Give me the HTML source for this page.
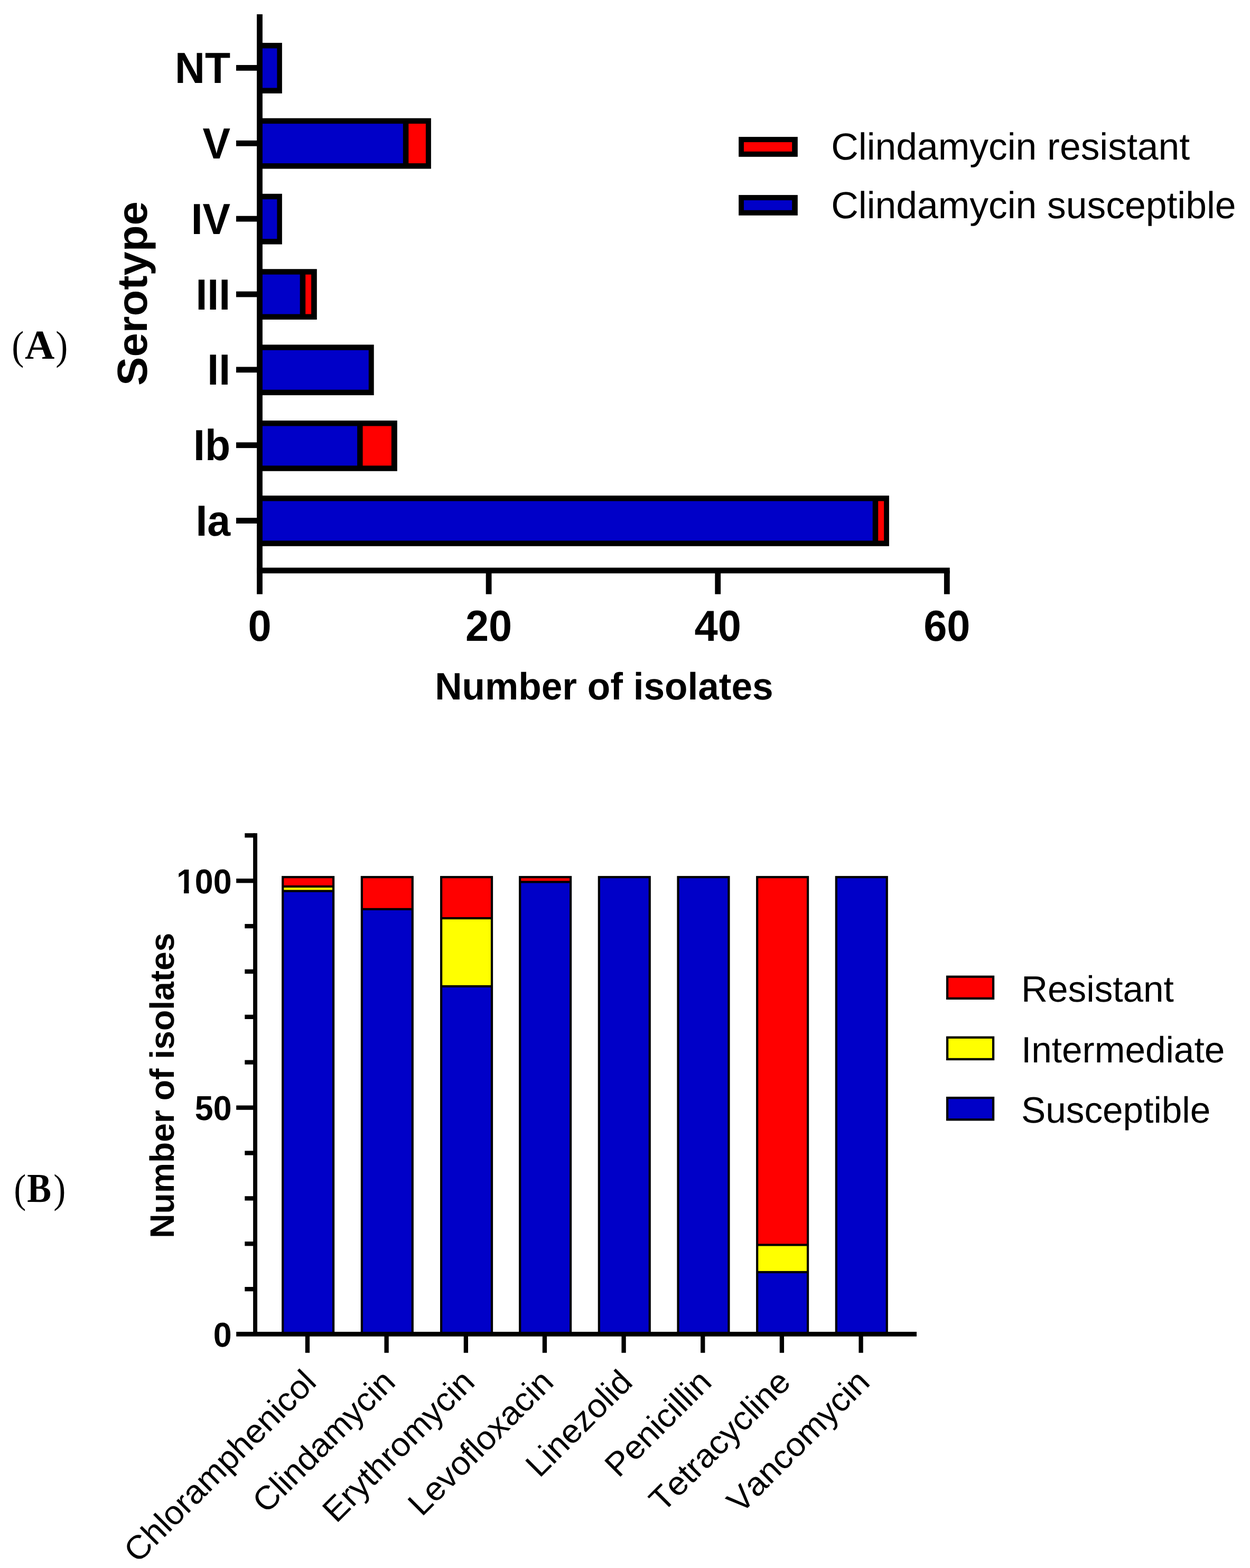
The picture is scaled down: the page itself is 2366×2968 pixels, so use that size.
<!DOCTYPE html>
<html lang="en">
<head>
<meta charset="utf-8">
<title>Serotype distribution and antimicrobial susceptibility</title>
<style>
html,body{margin:0;padding:0;background:#fff;overflow:hidden;}
body{width:2366px;height:2968px;overflow:hidden;}
svg{display:block;}
text{fill:#000;font-kerning:none;font-variant-ligatures:none;text-rendering:geometricPrecision;}
.b{font-family:'Liberation Sans', Arial, Helvetica, sans-serif;font-weight:700;}
.r{font-family:'Liberation Sans', Arial, Helvetica, sans-serif;font-weight:400;}
.s{font-family:'Liberation Serif', 'Times New Roman', serif;font-weight:400;}
.sb{font-family:'Liberation Serif', 'Times New Roman', serif;font-weight:700;}
</style>
</head>
<body>
<svg width="2366" height="2968" viewBox="0 0 2366 2968">
<rect x="0" y="0" width="2366" height="2968" fill="#fff"/>
<g id="chartA">
<rect x="491.5" y="81.1" width="42.36" height="95.7" fill="#000"/>
<rect x="491.5" y="91.5" width="32.86" height="74.9" fill="#0000C8"/>
<rect x="447" y="123.05" width="44.5" height="10.8" fill="#000"/>
<text class="b" font-size="78.8" text-anchor="end" transform="translate(436.1 156.95) scale(1 1.046)">NT</text>
<rect x="491.5" y="223.75" width="324.4" height="95.7" fill="#000"/>
<rect x="773.34" y="234.15" width="32.56" height="74.9" fill="#FF0000"/>
<rect x="491.5" y="234.15" width="271.34" height="74.9" fill="#0000C8"/>
<rect x="447" y="265.9" width="44.5" height="10.8" fill="#000"/>
<text class="b" font-size="78.8" text-anchor="end" transform="translate(436.1 299.8) scale(1 1.046)">V</text>
<rect x="491.5" y="366.8" width="42.36" height="95.7" fill="#000"/>
<rect x="491.5" y="377.2" width="32.86" height="74.9" fill="#0000C8"/>
<rect x="447" y="408.75" width="44.5" height="10.8" fill="#000"/>
<text class="b" font-size="78.8" text-anchor="end" transform="translate(436.1 442.65) scale(1 1.046)">IV</text>
<rect x="491.5" y="509.25" width="108.3" height="95.7" fill="#000"/>
<rect x="578.22" y="519.65" width="10.88" height="74.9" fill="#FF0000"/>
<rect x="491.5" y="519.65" width="76.22" height="74.9" fill="#0000C8"/>
<rect x="447" y="551.6" width="44.5" height="10.8" fill="#000"/>
<text class="b" font-size="78.8" text-anchor="end" transform="translate(436.1 585.5) scale(1 1.046)">III</text>
<rect x="491.5" y="652.4" width="216.2" height="95.7" fill="#000"/>
<rect x="491.5" y="662.8" width="206.3" height="74.9" fill="#0000C8"/>
<rect x="447" y="694.45" width="44.5" height="10.8" fill="#000"/>
<text class="b" font-size="78.8" text-anchor="end" transform="translate(436.1 728.35) scale(1 1.046)">II</text>
<rect x="491.5" y="796.05" width="260.36" height="95.7" fill="#000"/>
<rect x="686.62" y="806.45" width="54.24" height="74.9" fill="#FF0000"/>
<rect x="491.5" y="806.45" width="184.62" height="74.9" fill="#0000C8"/>
<rect x="447" y="837.3" width="44.5" height="10.8" fill="#000"/>
<text class="b" font-size="78.8" text-anchor="end" transform="translate(436.1 871.2) scale(1 1.046)">Ib</text>
<rect x="491.5" y="938.1" width="1191.4" height="95.7" fill="#000"/>
<rect x="1662.22" y="948.5" width="10.88" height="74.9" fill="#FF0000"/>
<rect x="491.5" y="948.5" width="1160.22" height="74.9" fill="#0000C8"/>
<rect x="447" y="980.15" width="44.5" height="10.8" fill="#000"/>
<text class="b" font-size="78.8" text-anchor="end" transform="translate(436.1 1014.05) scale(1 1.046)">Ia</text>
<rect x="486.1" y="27" width="10.8" height="1097.7" fill="#000"/>
<rect x="486.1" y="1074.5" width="1311.6" height="10.8" fill="#000"/>
<text class="b" font-size="79.4" text-anchor="middle" transform="translate(491.5 1212.6) scale(1 1.035)">0</text>
<rect x="919.7" y="1079.9" width="10.8" height="44.8" fill="#000"/>
<text class="b" font-size="79.4" text-anchor="middle" transform="translate(925.1 1212.6) scale(1 1.035)">20</text>
<rect x="1353.3" y="1079.9" width="10.8" height="44.8" fill="#000"/>
<text class="b" font-size="79.4" text-anchor="middle" transform="translate(1358.7 1212.6) scale(1 1.035)">40</text>
<rect x="1786.9" y="1079.9" width="10.8" height="44.8" fill="#000"/>
<text class="b" font-size="79.4" text-anchor="middle" transform="translate(1792.3 1212.6) scale(1 1.035)">60</text>
<text class="b" font-size="71.15" text-anchor="middle" transform="translate(1143.4 1323.5) scale(1 1.015)">Number of isolates</text>
<text class="b" font-size="81.5" text-anchor="middle" transform="translate(278 555.6) rotate(-90) scale(1 0.98)">Serotype</text>
</g>
<g id="legendA">
<rect x="1398.15" y="259.1" width="111.7" height="37.7" fill="#000"/>
<rect x="1407.95" y="269.1" width="91.2" height="17.7" fill="#FF0000"/>
<text class="r" font-size="71.45" text-anchor="start" transform="translate(1573.2 301.7)">Clindamycin resistant</text>
<rect x="1398.15" y="369.1" width="111.7" height="38.7" fill="#000"/>
<rect x="1407.95" y="379.1" width="91.2" height="18.7" fill="#0000C8"/>
<text class="r" font-size="71.45" text-anchor="start" transform="translate(1573.2 412.7)">Clindamycin susceptible</text>
</g>
<text class="s" font-size="77"><tspan x="22.3" y="679.6" textLength="23.08" lengthAdjust="spacingAndGlyphs">(</tspan><tspan class="sb" font-size="78" x="47" y="679" textLength="56.32" lengthAdjust="spacingAndGlyphs">A</tspan><tspan x="105.2" y="679.6" textLength="23.08" lengthAdjust="spacingAndGlyphs">)</tspan></text>
<text class="s" font-size="77"><tspan x="26.2" y="2275.6" textLength="23.08" lengthAdjust="spacingAndGlyphs">(</tspan><tspan class="sb" font-size="78" x="51.2" y="2275" textLength="45.78" lengthAdjust="spacingAndGlyphs">B</tspan><tspan x="101.2" y="2275.6" textLength="23.08" lengthAdjust="spacingAndGlyphs">)</tspan></text>
<g id="chartB">
<rect x="533.1" y="1658.11" width="100.1" height="867.39" fill="#000"/>
<rect x="537.3" y="1662.31" width="91.7" height="13.58" fill="#FF0000"/>
<rect x="537.3" y="1680.09" width="91.7" height="4.39" fill="#FFFF00"/>
<rect x="537.3" y="1688.68" width="91.7" height="836.82" fill="#0000C8"/>
<rect x="577.8" y="2525.5" width="8.3" height="35.2" fill="#000"/>
<text class="r" font-size="64.3" text-anchor="end" transform="translate(601.95 2619.5) rotate(-45) scale(1 0.975)">Chloramphenicol</text>
<rect x="682.76" y="1658.11" width="100.1" height="867.39" fill="#000"/>
<rect x="686.96" y="1662.31" width="91.7" height="56.52" fill="#FF0000"/>
<rect x="686.96" y="1723.03" width="91.7" height="802.47" fill="#0000C8"/>
<rect x="727.46" y="2525.5" width="8.3" height="35.2" fill="#000"/>
<text class="r" font-size="64.3" text-anchor="end" transform="translate(751.61 2619.5) rotate(-45) scale(1 0.975)">Clindamycin</text>
<rect x="833.02" y="1658.11" width="100.1" height="867.39" fill="#000"/>
<rect x="837.22" y="1662.31" width="91.7" height="73.69" fill="#FF0000"/>
<rect x="837.22" y="1740.2" width="91.7" height="124.62" fill="#FFFF00"/>
<rect x="837.22" y="1869.02" width="91.7" height="656.48" fill="#0000C8"/>
<rect x="877.72" y="2525.5" width="8.3" height="35.2" fill="#000"/>
<text class="r" font-size="64.3" text-anchor="end" transform="translate(901.87 2619.5) rotate(-45) scale(1 0.975)">Erythromycin</text>
<rect x="982.08" y="1658.11" width="100.1" height="867.39" fill="#000"/>
<rect x="986.28" y="1662.31" width="91.7" height="4.99" fill="#FF0000"/>
<rect x="986.28" y="1671.5" width="91.7" height="854" fill="#0000C8"/>
<rect x="1026.78" y="2525.5" width="8.3" height="35.2" fill="#000"/>
<text class="r" font-size="64.3" text-anchor="end" transform="translate(1050.93 2619.5) rotate(-45) scale(1 0.975)">Levofloxacin</text>
<rect x="1131.74" y="1658.11" width="100.1" height="867.39" fill="#000"/>
<rect x="1135.94" y="1662.31" width="91.7" height="863.19" fill="#0000C8"/>
<rect x="1176.44" y="2525.5" width="8.3" height="35.2" fill="#000"/>
<text class="r" font-size="64.3" text-anchor="end" transform="translate(1200.59 2619.5) rotate(-45) scale(1 0.975)">Linezolid</text>
<rect x="1281.4" y="1658.11" width="100.1" height="867.39" fill="#000"/>
<rect x="1285.6" y="1662.31" width="91.7" height="863.19" fill="#0000C8"/>
<rect x="1326.1" y="2525.5" width="8.3" height="35.2" fill="#000"/>
<text class="r" font-size="64.3" text-anchor="end" transform="translate(1350.25 2619.5) rotate(-45) scale(1 0.975)">Penicillin</text>
<rect x="1431.06" y="1658.11" width="100.1" height="867.39" fill="#000"/>
<rect x="1435.26" y="1662.31" width="91.7" height="692.03" fill="#FF0000"/>
<rect x="1435.26" y="2358.54" width="91.7" height="47.33" fill="#FFFF00"/>
<rect x="1435.26" y="2410.07" width="91.7" height="115.43" fill="#0000C8"/>
<rect x="1475.76" y="2525.5" width="8.3" height="35.2" fill="#000"/>
<text class="r" font-size="64.3" text-anchor="end" transform="translate(1499.91 2619.5) rotate(-45) scale(1 0.975)">Tetracycline</text>
<rect x="1580.72" y="1658.11" width="100.1" height="867.39" fill="#000"/>
<rect x="1584.92" y="1662.31" width="91.7" height="863.19" fill="#0000C8"/>
<rect x="1625.42" y="2525.5" width="8.3" height="35.2" fill="#000"/>
<text class="r" font-size="64.3" text-anchor="end" transform="translate(1649.57 2619.5) rotate(-45) scale(1 0.975)">Vancomycin</text>
<rect x="479.1" y="1577.17" width="7.9" height="948.33" fill="#000"/>
<rect x="447.2" y="2520.9" width="1287.8" height="8.8" fill="#000"/>
<rect x="463.3" y="2435.97" width="20" height="8.3" fill="#000"/>
<rect x="463.3" y="2350.09" width="20" height="8.3" fill="#000"/>
<rect x="463.3" y="2264.21" width="20" height="8.3" fill="#000"/>
<rect x="463.3" y="2178.33" width="20" height="8.3" fill="#000"/>
<rect x="447.2" y="2092.45" width="36.1" height="8.3" fill="#000"/>
<rect x="463.3" y="2006.57" width="20" height="8.3" fill="#000"/>
<rect x="463.3" y="1920.69" width="20" height="8.3" fill="#000"/>
<rect x="463.3" y="1834.81" width="20" height="8.3" fill="#000"/>
<rect x="463.3" y="1748.93" width="20" height="8.3" fill="#000"/>
<rect x="447.2" y="1663.05" width="36.1" height="8.3" fill="#000"/>
<rect x="463.3" y="1577.17" width="20" height="8.3" fill="#000"/>
<text class="b" font-size="62.8" text-anchor="end" transform="translate(438.7 2549.3) scale(1 1.04)">0</text>
<text class="b" font-size="62.8" text-anchor="end" transform="translate(438.7 2119.9) scale(1 1.04)">50</text>
<text class="b" font-size="62.8" text-anchor="end" transform="translate(438.7 1690.5) scale(1 1.04)">100</text>
<rect x="336" y="1682" width="12" height="11" fill="#fff"/>
<rect x="357.5" y="1682" width="11.1" height="11" fill="#fff"/>
<text class="b" font-size="64.25" text-anchor="middle" transform="translate(328.7 2054.6) rotate(-90)">Number of isolates</text>
</g>
<g id="legendB">
<rect x="1790.9" y="1846.6" width="91.3" height="45.5" fill="#000"/>
<rect x="1795.2" y="1850.9" width="82.7" height="36.9" fill="#FF0000"/>
<text class="r" font-size="69.3" text-anchor="start" transform="translate(1933 1895.6)">Resistant</text>
<rect x="1790.9" y="1961.6" width="91.3" height="45.5" fill="#000"/>
<rect x="1795.2" y="1965.9" width="82.7" height="36.9" fill="#FFFF00"/>
<text class="r" font-size="69.3" text-anchor="start" transform="translate(1933 2010.8)">Intermediate</text>
<rect x="1790.9" y="2075.9" width="91.3" height="45.5" fill="#000"/>
<rect x="1795.2" y="2080.2" width="82.7" height="36.9" fill="#0000C8"/>
<text class="r" font-size="69.3" text-anchor="start" transform="translate(1933 2125.1)">Susceptible</text>
</g>
</svg>
</body>
</html>
